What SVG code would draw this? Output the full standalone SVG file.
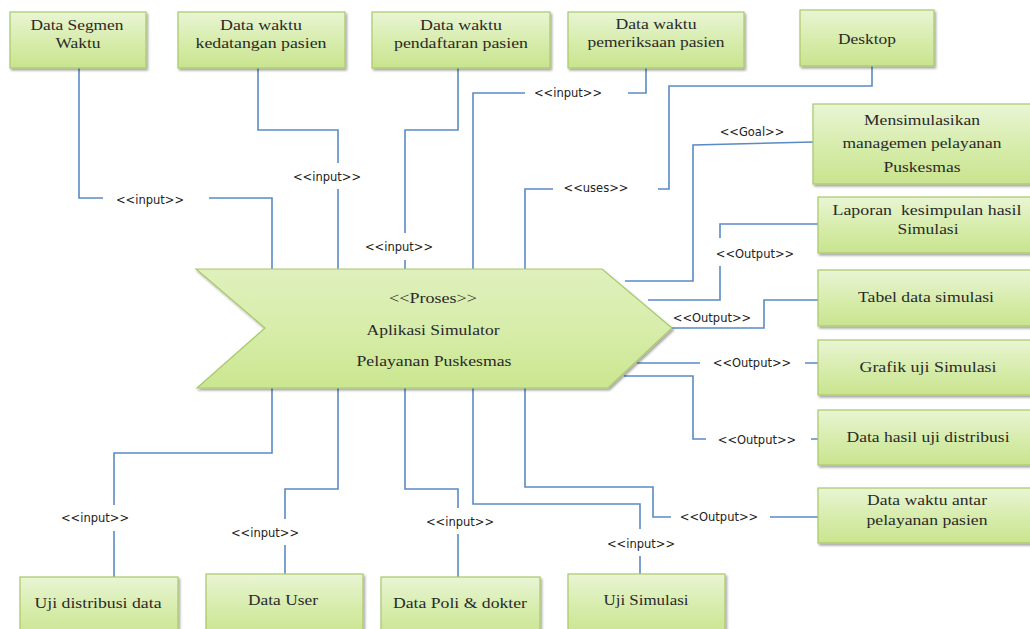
<svg xmlns="http://www.w3.org/2000/svg" width="1030" height="629" viewBox="0 0 1030 629">
  <defs>
    <linearGradient id="boxFill" x1="0" y1="0" x2="0" y2="1">
      <stop offset="0" stop-color="#e9f5d4"/>
      <stop offset="0.55" stop-color="#d6ecaa"/>
      <stop offset="1" stop-color="#c9e48f"/>
    </linearGradient>
    <linearGradient id="procFill" x1="0" y1="0" x2="0" y2="1">
      <stop offset="0" stop-color="#dff0bd"/>
      <stop offset="0.5" stop-color="#d7edaa"/>
      <stop offset="1" stop-color="#cbe690"/>
    </linearGradient>
    <filter id="shadow" x="-10%" y="-10%" width="125%" height="135%">
      <feDropShadow dx="1.5" dy="2" stdDeviation="1.2" flood-color="#000" flood-opacity="0.35"/>
    </filter>
    <style>
      .box { fill: url(#boxFill); stroke: #a8c86a; stroke-width: 1.2; filter: url(#shadow); }
      .proc { fill: url(#procFill); stroke: #a8c86a; stroke-width: 1.2; filter: url(#shadow); }
      .txt { font-family: "Liberation Serif", "Times New Roman", serif; font-size: 14px; fill: #2a2a2a; text-anchor: middle; }
      .lbl { font-family: "DejaVu Sans", Verdana, sans-serif; font-size: 11.5px; fill: #222; text-anchor: middle; }
      .conn { fill: none; stroke: #5b8ac6; stroke-width: 1.6; }
    </style>
  </defs>

  <rect width="1030" height="629" fill="#ffffff"/>

  <!-- connectors -->
  <g id="connectors" class="conn">
    <path d="M79 68 V198 H103 M209 198 H272 V269"/>
    <path d="M258 68 V130 H338 V163 M338 189 V269"/>
    <path d="M458 68 V130 H405 V233 M405 260 V269"/>
    <path d="M646 68 V93 H628 M525 93 H473 V269"/>
    <path d="M872 66 V86 H669 V189 H658 M553 189 H525 V269"/>
    <path d="M813 142 L693 145 V281 H625"/>
    <path d="M818 224 H720 V238 M720 266 V300 H648"/>
    <path d="M818 300 H764 V328 H672"/>
    <path d="M637 363 H700 M805 363 H818"/>
    <path d="M624 376 H693 V439 H706 M811 439 H818"/>
    <path d="M525 388 V487 H653 V517 H671 M770 517 H818"/>
    <path d="M473 388 V504 H640 V529 M640 556 V574"/>
    <path d="M272 388 V453 H114 V505 M114 531 V577"/>
    <path d="M338 388 V489 H285 V519 M285 545 V574"/>
    <path d="M405 388 V489 H458 V508 M458 534 V577"/>
  </g>

  <!-- connector stereotypes -->
  <g id="connector-labels" class="lbl">
    <text x="150" y="204">&lt;&lt;input&gt;&gt;</text>
    <text x="327" y="181">&lt;&lt;input&gt;&gt;</text>
    <text x="399" y="251">&lt;&lt;input&gt;&gt;</text>
    <text x="568" y="97">&lt;&lt;input&gt;&gt;</text>
    <text x="596" y="192">&lt;&lt;uses&gt;&gt;</text>
    <text x="752" y="136">&lt;&lt;Goal&gt;&gt;</text>
    <text x="755" y="258">&lt;&lt;Output&gt;&gt;</text>
    <text x="712" y="322">&lt;&lt;Output&gt;&gt;</text>
    <text x="752" y="367">&lt;&lt;Output&gt;&gt;</text>
    <text x="757" y="444">&lt;&lt;Output&gt;&gt;</text>
    <text x="719" y="521">&lt;&lt;Output&gt;&gt;</text>
    <text x="641" y="548">&lt;&lt;input&gt;&gt;</text>
    <text x="95" y="522">&lt;&lt;input&gt;&gt;</text>
    <text x="265" y="537">&lt;&lt;input&gt;&gt;</text>
    <text x="460" y="526">&lt;&lt;input&gt;&gt;</text>
  </g>

  <!-- central process -->
  <g id="proses">
    <polygon class="proc" points="196,269 602,269 672,328 608,388 197,388 265,328"/>
    <text class="txt" x="433" y="303" textLength="88" lengthAdjust="spacingAndGlyphs">&lt;&lt;Proses&gt;&gt;</text>
    <text class="txt" x="433" y="335" textLength="133" lengthAdjust="spacingAndGlyphs">Aplikasi Simulator</text>
    <text class="txt" x="434" y="366" textLength="155" lengthAdjust="spacingAndGlyphs">Pelayanan Puskesmas</text>
  </g>

  <!-- inputs, top row -->
  <g id="data-segmen-waktu">
    <rect class="box" x="10" y="12" width="136" height="56"/>
    <text class="txt" x="77" y="30" textLength="93" lengthAdjust="spacingAndGlyphs">Data Segmen</text>
    <text class="txt" x="78" y="48" textLength="45" lengthAdjust="spacingAndGlyphs">Waktu</text>
  </g>
  <g id="data-waktu-kedatangan">
    <rect class="box" x="178" y="12" width="167" height="56"/>
    <text class="txt" x="261" y="30" textLength="82" lengthAdjust="spacingAndGlyphs">Data waktu</text>
    <text class="txt" x="261" y="48" textLength="131" lengthAdjust="spacingAndGlyphs">kedatangan pasien</text>
  </g>
  <g id="data-waktu-pendaftaran">
    <rect class="box" x="372" y="12" width="178" height="56"/>
    <text class="txt" x="461" y="30" textLength="82" lengthAdjust="spacingAndGlyphs">Data waktu</text>
    <text class="txt" x="461" y="48" textLength="134" lengthAdjust="spacingAndGlyphs">pendaftaran pasien</text>
  </g>
  <g id="data-waktu-pemeriksaan">
    <rect class="box" x="568" y="12" width="176" height="56"/>
    <text class="txt" x="656" y="29" textLength="81" lengthAdjust="spacingAndGlyphs">Data waktu</text>
    <text class="txt" x="656" y="47" textLength="137" lengthAdjust="spacingAndGlyphs">pemeriksaan pasien</text>
  </g>
  <g id="desktop">
    <rect class="box" x="800" y="10" width="134" height="56"/>
    <text class="txt" x="867" y="44" textLength="58" lengthAdjust="spacingAndGlyphs">Desktop</text>
  </g>

  <!-- goal and outputs, right column -->
  <g id="goal">
    <rect class="box" x="813" y="104" width="222" height="80"/>
    <text class="txt" x="922" y="125" textLength="116" lengthAdjust="spacingAndGlyphs">Mensimulasikan</text>
    <text class="txt" x="922" y="148" textLength="159" lengthAdjust="spacingAndGlyphs">managemen pelayanan</text>
    <text class="txt" x="922" y="172" textLength="77" lengthAdjust="spacingAndGlyphs">Puskesmas</text>
  </g>
  <g id="laporan">
    <rect class="box" x="818" y="197" width="217" height="56"/>
    <text class="txt" x="927" y="215" textLength="189" lengthAdjust="spacingAndGlyphs">Laporan&#160; kesimpulan hasil</text>
    <text class="txt" x="928" y="234" textLength="61" lengthAdjust="spacingAndGlyphs">Simulasi</text>
  </g>
  <g id="tabel">
    <rect class="box" x="818" y="270" width="217" height="56"/>
    <text class="txt" x="926" y="302" textLength="136" lengthAdjust="spacingAndGlyphs">Tabel data simulasi</text>
  </g>
  <g id="grafik">
    <rect class="box" x="818" y="340" width="217" height="55"/>
    <text class="txt" x="928" y="372" textLength="137" lengthAdjust="spacingAndGlyphs">Grafik uji Simulasi</text>
  </g>
  <g id="hasil-uji-distribusi">
    <rect class="box" x="818" y="410" width="217" height="55"/>
    <text class="txt" x="928" y="442" textLength="163" lengthAdjust="spacingAndGlyphs">Data hasil uji distribusi</text>
  </g>
  <g id="waktu-antar-pelayanan">
    <rect class="box" x="818" y="488" width="217" height="55"/>
    <text class="txt" x="927" y="505" textLength="120" lengthAdjust="spacingAndGlyphs">Data waktu antar</text>
    <text class="txt" x="927" y="525" textLength="121" lengthAdjust="spacingAndGlyphs">pelayanan pasien</text>
  </g>

  <!-- inputs, bottom row -->
  <g id="uji-distribusi">
    <rect class="box" x="20" y="577" width="158" height="62"/>
    <text class="txt" x="98" y="608" textLength="127" lengthAdjust="spacingAndGlyphs">Uji distribusi data</text>
  </g>
  <g id="data-user">
    <rect class="box" x="206" y="574" width="157" height="62"/>
    <text class="txt" x="283" y="605" textLength="70" lengthAdjust="spacingAndGlyphs">Data User</text>
  </g>
  <g id="data-poli">
    <rect class="box" x="381" y="577" width="159" height="62"/>
    <text class="txt" x="460" y="608" textLength="134" lengthAdjust="spacingAndGlyphs">Data Poli &amp; dokter</text>
  </g>
  <g id="uji-simulasi">
    <rect class="box" x="568" y="574" width="157" height="62"/>
    <text class="txt" x="646" y="605" textLength="85" lengthAdjust="spacingAndGlyphs">Uji Simulasi</text>
  </g>
</svg>
